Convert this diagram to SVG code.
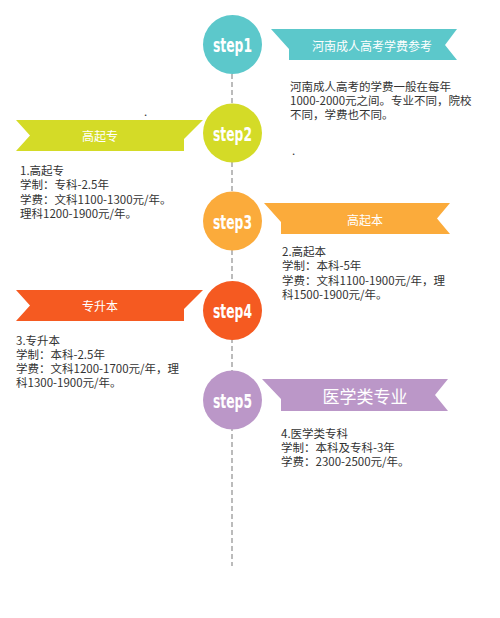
<svg xmlns="http://www.w3.org/2000/svg" width="500" height="618" viewBox="0 0 500 618">
<style>
.step{font-family:"DejaVu Sans Condensed","Liberation Sans",sans-serif;font-weight:bold;font-size:19px;fill:#fff;text-anchor:middle;dominant-baseline:central}
.rib{font-family:"Noto Sans CJK SC",sans-serif;font-size:12px;fill:#fff;text-anchor:middle;dominant-baseline:central}
.body{font-family:"Noto Sans CJK SC",sans-serif;font-size:11.5px;fill:#333}
.c1{fill:#5CC8CB}.c2{fill:#D4DB27}.c3{fill:#FBAB3B}.c4{fill:#F55A21}.c5{fill:#BB97C8}
</style>
<rect width="500" height="618" fill="#fff"/>
<g id="connectors">
<line x1="232" y1="74" x2="232" y2="566" stroke="#bbb" stroke-width="2" stroke-dasharray="5 3"/>
</g>
<g id="step1">
<circle cx="232.5" cy="44.5" r="29.5" class="c1"/>
<text x="232.5" y="45" class="step" textLength="39" lengthAdjust="spacingAndGlyphs">step1</text>
<polygon points="271,29 457,29 445,45 457,60 289,60 289,49" class="c1"/>
<text x="372" y="45" class="rib">河南成人高考学费参考</text>
<text class="body"><tspan x="290" y="91">河南成人高考的学费一般在每年</tspan><tspan x="290" y="105">1000-2000元之间。专业不同，院校</tspan><tspan x="290" y="119">不同，学费也不同。</tspan></text>
</g>
<g id="step2">
<circle cx="232.5" cy="133" r="29.5" class="c2"/>
<text x="232.5" y="133.5" class="step" textLength="39" lengthAdjust="spacingAndGlyphs">step2</text>
<polygon points="16,120 203,120 184,139 184,151 16,151 30,135.5" class="c2"/>
<text x="100" y="135" class="rib">高起专</text>
<text x="144" y="116" class="body">.</text>
<text x="292" y="155" class="body">.</text>
<text class="body"><tspan x="20" y="175">1.高起专</tspan><tspan x="20" y="189">学制：专科-2.5年</tspan><tspan x="20" y="203.5">学费：文科1100-1300元/年。</tspan><tspan x="20" y="218">理科1200-1900元/年。</tspan></text>
</g>
<g id="step3">
<circle cx="232.5" cy="221" r="29.5" class="c3"/>
<text x="232.5" y="221.5" class="step" textLength="39" lengthAdjust="spacingAndGlyphs">step3</text>
<polygon points="264,203 450,203 437,218.5 450,234 281,234 281,222" class="c3"/>
<text x="365" y="219" class="rib">高起本</text>
<text class="body"><tspan x="282" y="256">2.高起本</tspan><tspan x="282" y="270">学制：本科-5年</tspan><tspan x="282" y="285">学费：文科1100-1900元/年，理</tspan><tspan x="282" y="299">科1500-1900元/年。</tspan></text>
</g>
<g id="step4">
<circle cx="232.5" cy="310.5" r="29.5" class="c4"/>
<text x="232.5" y="311" class="step" textLength="39" lengthAdjust="spacingAndGlyphs">step4</text>
<polygon points="16,290 203,290 184,309 184,321 16,321 30,305.5" class="c4"/>
<text x="100" y="305" class="rib">专升本</text>
<text class="body"><tspan x="16" y="345">3.专升本</tspan><tspan x="16" y="359">学制：本科-2.5年</tspan><tspan x="16" y="373">学费：文科1200-1700元/年，理</tspan><tspan x="16" y="387">科1300-1900元/年。</tspan></text>
</g>
<g id="step5">
<circle cx="232.5" cy="400" r="29.5" class="c5"/>
<text x="232.5" y="400.5" class="step" textLength="39" lengthAdjust="spacingAndGlyphs">step5</text>
<polygon points="262,379 448,379 435,395 448,411 281,411 281,399" class="c5"/>
<text x="365" y="395" class="rib" style="font-size:17px">医学类专业</text>
<text class="body"><tspan x="281" y="438">4.医学类专科</tspan><tspan x="281" y="452">学制：本科及专科-3年</tspan><tspan x="281" y="466">学费：2300-2500元/年。</tspan></text>
</g>
</svg>
